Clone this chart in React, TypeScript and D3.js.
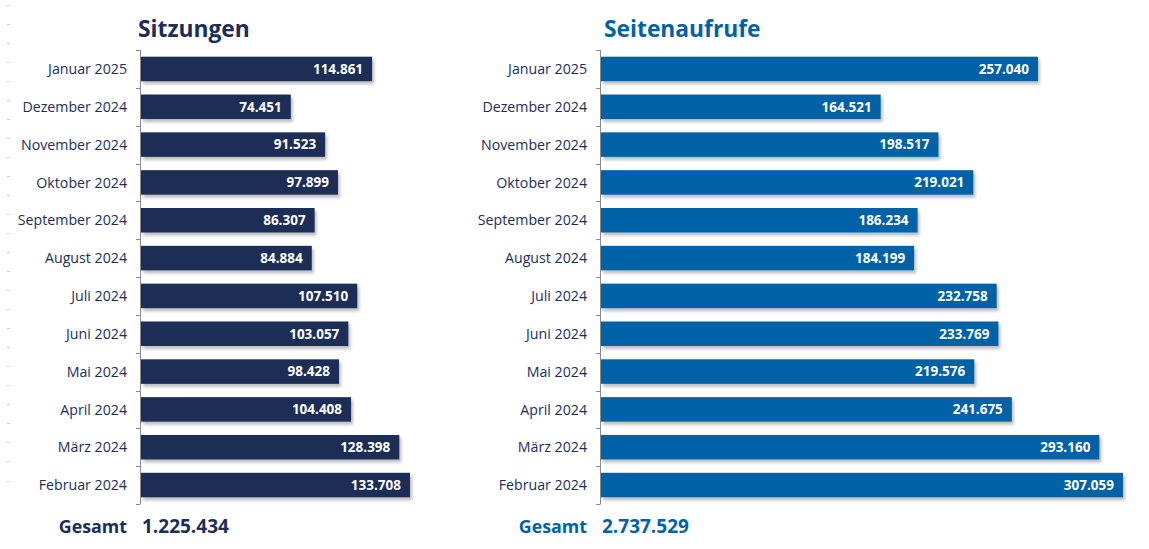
import React from "react";
import * as d3 from "d3";

const months = [
  "Januar 2025", "Dezember 2024", "November 2024", "Oktober 2024", "September 2024",
  "August 2024", "Juli 2024", "Juni 2024", "Mai 2024", "April 2024", "März 2024", "Februar 2024",
];
const sitzungen = [114861, 74451, 91523, 97899, 86307, 84884, 107510, 103057, 98428, 104408, 128398, 133708];
const seitenaufrufe = [257040, 164521, 198517, 219021, 186234, 184199, 232758, 233769, 219576, 241675, 293160, 307059];
const titles = ["Sitzungen", "Seitenaufrufe"];
const totalLabel = "Gesamt";

const W = 1149, H = 549;
const FONT = "'Open Sans', 'Noto Sans', sans-serif";
const fmt = (v: number) => d3.format(",")(v).replace(/,/g, ".");

type PanelProps = { title: string; titleX: number; values: number[]; x0: number; pxPerUnit: number; color: string; titleColor: string; id: string };

function Panel({ title, titleX, values, x0, pxPerUnit, color, titleColor, id }: PanelProps) {
  const top = 50, bottom = 504;
  const y = d3.scaleBand<string>().domain(months).range([top, bottom]).paddingInner(0.352).paddingOuter(0.177);
  const maxV = d3.max(values) as number;
  const x = d3.scaleLinear().domain([0, maxV]).range([x0, x0 + maxV * pxPerUnit]);
  const step = (bottom - top) / months.length;
  const edges = d3.range(months.length + 1).map((i) => top + i * step);
  const total = d3.sum(values);
  return (
    <g>
      <text x={titleX} y={37} fontFamily={FONT} fontWeight={700} fontSize={22.8} fill={titleColor}>{title}</text>
      {months.map((m, i) => (
        <g key={m}>
          <rect x={x(0)} y={y(m)} width={x(values[i]) - x(0)} height={y.bandwidth()} fill={color} filter={`url(#${id})`} />
          <text x={x(values[i]) - 9} y={(y(m) as number) + y.bandwidth() / 2} dy="0.36em" textAnchor="end"
            fontFamily={FONT} fontWeight={700} fontSize={13.5} fill="#fff">{fmt(values[i])}</text>
          <text x={x0 - 14} y={(y(m) as number) + y.bandwidth() / 2} dy="0.36em" textAnchor="end"
            fontFamily={FONT} fontSize={14.2} fill="#1c2d57">{m}</text>
        </g>
      ))}
      <line x1={x0 - 0.5} x2={x0 - 0.5} y1={top} y2={bottom} stroke="#8a8a8a" strokeWidth={1} />
      {edges.map((e, i) => (
        <line key={i} x1={x0 - 5} x2={x0 - 0.5} y1={Math.round(e) + 0.5} y2={Math.round(e) + 0.5} stroke="#8a8a8a" strokeWidth={1} />
      ))}
      <text x={x0 - 14} y={533} textAnchor="end" fontFamily={FONT} fontWeight={700} fontSize={17.8} fill={titleColor}>{totalLabel}</text>
      <text x={x0 + 1} y={533} fontFamily={FONT} fontWeight={700} fontSize={19} fill={titleColor}>{fmt(total)}</text>
    </g>
  );
}

export default function App() {
  const dashes = d3.range(26).map((i) => 4.5 + i * 19.04);
  return (
    <svg width={W} height={H} style={{ position: "absolute", left: 0, top: 0, background: "#fff" }}>
      <defs>
        {["sh1", "sh2"].map((id) => (
          <filter key={id} id={id} x="-5%" y="-20%" width="115%" height="160%">
            <feDropShadow dx={2} dy={3} stdDeviation={1.5} floodColor="#000" floodOpacity={0.25} />
          </filter>
        ))}
      </defs>
      <rect x={0} y={0} width={W} height={H} fill="#fff" />
      {dashes.map((d, i) => (
        <line key={i} x1={7} x2={10} y1={Math.round(d) + 0.5} y2={Math.round(d) + 0.5} stroke="#d0d0d0" strokeWidth={1} />
      ))}
      <Panel title={titles[0]} titleX={138} values={sitzungen} x0={141} pxPerUnit={269 / 133708} color="#1c2d57" titleColor="#1c2d57" id="sh1" />
      <Panel title={titles[1]} titleX={604} values={seitenaufrufe} x0={601} pxPerUnit={522 / 307059} color="#0062a6" titleColor="#0062a6" id="sh2" />
    </svg>
  );
}
